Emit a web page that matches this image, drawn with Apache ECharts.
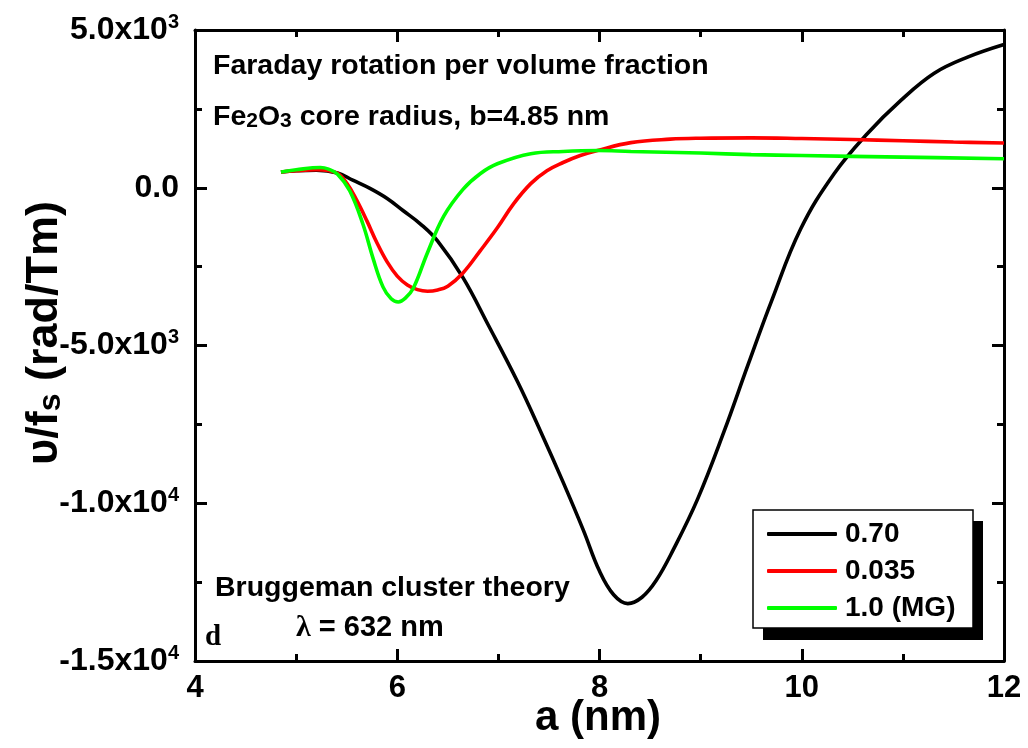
<!DOCTYPE html>
<html>
<head>
<meta charset="utf-8">
<script src="https://cdn.jsdelivr.net/npm/echarts@6/dist/echarts.min.js"></script>
<style>
html,body{margin:0;padding:0;background:#fff;}
#chart{width:1028px;height:748px;}
</style>
</head>
<body>
<div id="chart"></div>
<script>
// ---- data ----
const seriesNames = ['0.70', '0.035', '1.0 (MG)'];
const xTicks = [4, 6, 8, 10, 12];
const yTicks = [5000, 0, -5000, -10000, -15000];
const yTickMant = ['5.0x10', '0.0', '-5.0x10', '-1.0x10', '-1.5x10'];
const yTickExp = ['3', '', '3', '4', '4'];

const blackX = [4.85, 5.0, 5.2, 5.41, 5.56, 5.73, 5.9, 6.06, 6.23, 6.4, 6.65, 6.9, 7.19, 7.42, 7.64, 7.84, 8.0, 8.14, 8.28, 8.42, 8.56, 8.73, 8.97, 9.23, 9.47, 9.7, 9.99, 10.32, 10.65, 10.98, 11.31, 11.64, 12.0];
const blackY = [500, 540, 560, 470, 240, -20, -340, -730, -1150, -1690, -2850, -4350, -6150, -7740, -9330, -10850, -12150, -12900, -13180, -12980, -12450, -11470, -9870, -7740, -5600, -3600, -1300, 445, 1720, 2770, 3630, 4140, 4540];

const redX = [4.85, 5.0, 5.2, 5.4, 5.5, 5.6, 5.7, 5.8, 5.9, 6.0, 6.1, 6.2, 6.3, 6.4, 6.5, 6.65, 6.82, 6.99, 7.15, 7.32, 7.48, 7.64, 7.81, 7.98, 8.31, 8.7, 9.0, 9.5, 10.0, 10.5, 11.0, 11.5, 12.0];
const redY = [500, 540, 570, 470, 150, -400, -1050, -1750, -2350, -2800, -3080, -3230, -3280, -3240, -3120, -2700, -2000, -1270, -510, 130, 540, 800, 1020, 1180, 1430, 1540, 1570, 1580, 1560, 1530, 1490, 1450, 1420];

const greenX = [4.85, 5.0, 5.24, 5.32, 5.41, 5.53, 5.66, 5.76, 5.86, 5.94, 6.01, 6.08, 6.16, 6.3, 6.46, 6.65, 6.82, 6.99, 7.32, 7.64, 7.98, 8.31, 9.0, 9.5, 10.0, 11.0, 12.0];
const greenY = [500, 570, 640, 590, 430, -95, -1150, -2230, -3150, -3520, -3620, -3500, -3180, -2050, -900, -50, 445, 760, 1080, 1150, 1180, 1150, 1100, 1050, 1020, 970, 920];

const pairs = (xs, ys) => xs.map((x, i) => [x, ys[i]]);

const FONT = "'Liberation Sans', Arial, sans-serif";
const chart = echarts.init(document.getElementById('chart'), null, {renderer: 'canvas'});

const axisCommon = () => ({
  axisLine: {show: true, onZero: false, lineStyle: {color: '#000', width: 3}},
  axisTick: {show: true, inside: true, length: 12, lineStyle: {color: '#000', width: 3}},
  minorTick: {show: true, splitNumber: 2, length: 7, lineStyle: {color: '#000', width: 3}},
  splitLine: {show: false},
  minorSplitLine: {show: false}
});

const lineSeries = (name, data, color) => ({
  name, type: 'line', data, smooth: 0.4, showSymbol: false, symbol: 'none',
  lineStyle: {color, width: 3.6}, itemStyle: {color}, xAxisIndex: 0, yAxisIndex: 0, z: 3
});

chart.setOption({
  animation: false,
  backgroundColor: '#fff',
  grid: {left: 195, right: 24, top: 30, bottom: 87},
  xAxis: [
    Object.assign({type: 'value', position: 'bottom', min: 4, max: 12, interval: 2,
      axisLabel: {show: true, color: '#000', fontFamily: FONT, fontWeight: 'bold', fontSize: 31, margin: 12,
        formatter: v => xTicks.includes(v) ? String(v) : ''}}, axisCommon()),
    Object.assign({type: 'value', position: 'top', min: 4, max: 12, interval: 2,
      axisLabel: {show: false}}, axisCommon())
  ],
  yAxis: [
    Object.assign({type: 'value', position: 'left', min: -15000, max: 5000, interval: 5000,
      axisLabel: {show: true, margin: 16, color: '#000',
        formatter: v => {
          const i = yTicks.indexOf(v);
          if (i < 0) return '';
          return '{a|' + yTickMant[i] + '}' + (yTickExp[i] ? '{sup|' + yTickExp[i] + '}' : '');
        },
        rich: {
          a: {fontFamily: FONT, fontWeight: 'bold', fontSize: 32, color: '#000', lineHeight: 36},
          sup: {fontFamily: FONT, fontWeight: 'bold', fontSize: 20, color: '#000', verticalAlign: 'top', lineHeight: 20}
        }}}, axisCommon()),
    Object.assign({type: 'value', position: 'right', min: -15000, max: 5000, interval: 5000,
      axisLabel: {show: false}}, axisCommon())
  ],
  legend: {
    orient: 'vertical', left: 753, top: 510,
    data: seriesNames,
    icon: 'roundRect', itemWidth: 70, itemHeight: 4, itemGap: 9,
    padding: [10, 16, 10, 14],
    backgroundColor: 'transparent', borderWidth: 0,
    textStyle: {fontFamily: FONT, fontWeight: 'bold', fontSize: 28, color: '#000', lineHeight: 28, padding: [0, 0, 0, 3]},
    z: 20
  },
  series: [
    lineSeries(seriesNames[0], pairs(blackX, blackY), '#000000'),
    lineSeries(seriesNames[1], pairs(redX, redY), '#ff0000'),
    lineSeries(seriesNames[2], pairs(greenX, greenY), '#00ff00')
  ],
  graphic: [
    // legend frame with offset shadow
    {type: 'rect', z: 15, shape: {x: 763, y: 521, width: 220, height: 119}, style: {fill: '#000'}},
    {type: 'rect', z: 16, shape: {x: 753, y: 510, width: 220, height: 118}, style: {fill: '#fff', stroke: '#000', lineWidth: 1.5}},
    {type: 'text', x: 213, y: 66, z: 10, style: {text: 'Faraday rotation per volume fraction',
      font: "bold 28.5px " + FONT, fill: '#000', align: 'left', verticalAlign: 'middle'}},
    {type: 'text', x: 213, y: 109, z: 10, style: {text: '{m|Fe}{s|2}{m|O}{s|3}{m| core radius, b=4.85 nm}',
      align: 'left', verticalAlign: 'middle',
      rich: {m: {font: "bold 28.5px " + FONT, fill: '#000', lineHeight: 46, verticalAlign: 'bottom'},
             s: {font: "bold 21px " + FONT, fill: '#000', lineHeight: 20, verticalAlign: 'bottom'}}}},
    {type: 'text', x: 215, y: 588, z: 10, style: {text: 'Bruggeman cluster theory',
      font: "bold 28.5px " + FONT, fill: '#000', align: 'left', verticalAlign: 'middle'}},
    {type: 'text', x: 296, y: 628, z: 10, style: {text: '{l|λ}{m| = 632 nm}', align: 'left', verticalAlign: 'middle',
      rich: {l: {font: "bold 30px 'Liberation Serif', 'DejaVu Serif', serif", fill: '#000'},
             m: {font: "bold 29px " + FONT, fill: '#000'}}}},
    {type: 'text', x: 205, y: 638, z: 10, style: {text: 'd',
      font: "bold 29px 'Liberation Serif', serif", fill: '#000', align: 'left', verticalAlign: 'middle'}},
    {type: 'text', x: 38, y: 333, rotation: Math.PI / 2, z: 10, style: {text: '{m|υ/f}{s|s}{m| (rad/Tm)}',
      align: 'center', verticalAlign: 'middle',
      rich: {m: {font: "bold 45px " + FONT, fill: '#000', lineHeight: 58, verticalAlign: 'bottom'},
             s: {font: "bold 32px " + FONT, fill: '#000', lineHeight: 30, verticalAlign: 'bottom'}}}},
    {type: 'text', x: 598, y: 718, z: 10, style: {text: 'a (nm)',
      font: "bold 42px " + FONT, fill: '#000', align: 'center', verticalAlign: 'middle'}}
  ]
});
</script>
</body>
</html>
